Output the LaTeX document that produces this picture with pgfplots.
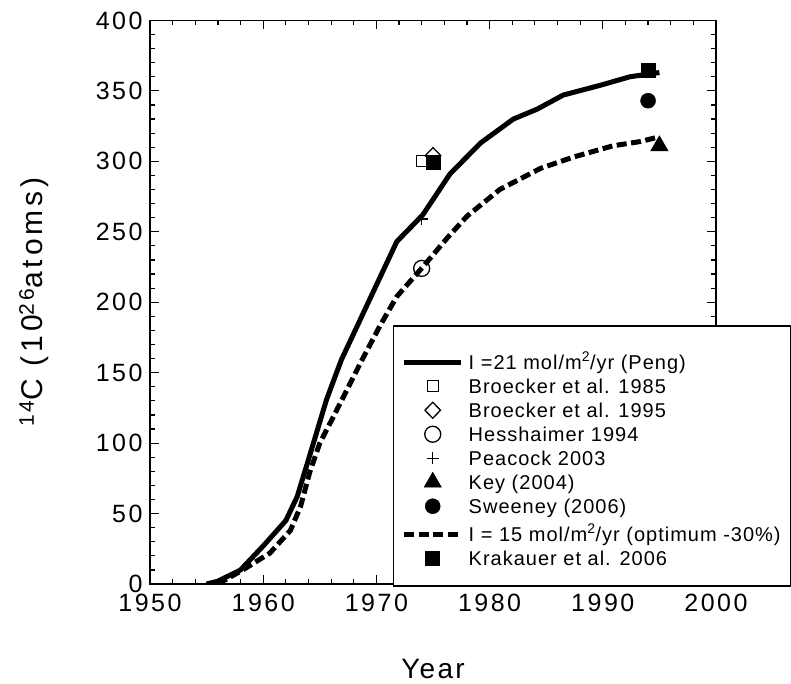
\documentclass[border=0pt]{standalone}
\usepackage{fontspec}
\setmainfont{Liberation Sans}[LetterSpace=8]
\newfontfamily\tickfont{Liberation Sans}[LetterSpace=10]
\newfontfamily\legfont{Liberation Sans}[LetterSpace=5]
\newfontfamily\labfont{Liberation Sans}[LetterSpace=13]
\usepackage{pgfplots}
\pgfplotsset{compat=1.18}
\usetikzlibrary{calc}

\begin{document}
\begin{tikzpicture}
\begin{axis}[
  name=ax,
  scale only axis, width=566pt, height=563.6pt,
  xmin=1950, xmax=2000, ymin=0, ymax=400,
  xtick={1950,1960,...,2000}, ytick={0,50,...,400},
  minor x tick num=4, minor y tick num=4,
  tick align=inside, tick pos=both,
  major tick length=9pt, minor tick length=5pt,
  every tick/.style={black, line width=1.2pt},
  axis line style={line width=1.6pt},
  /pgf/number format/assume math mode=true,
  /pgf/number format/1000 sep={},
  tick label style={font=\tickfont\fontsize{25}{29}\selectfont},
  xticklabel style={yshift=-7pt},
  yticklabel style={xshift=-4pt},
  xlabel={Year},
  ylabel={\textsuperscript{14}C (10\textsuperscript{26}atoms)},
  xlabel style={font=\fontsize{28}{32}\selectfont,
    at={([yshift=-94pt]axis description cs:0.5,0)}, anchor=base},
  ylabel style={font=\labfont\fontsize{30}{34}\selectfont,
    at={([xshift=-107pt]axis description cs:0,0.5)}, anchor=base},
  legend style={at={(axis description cs:0.4293,-0.0053)}, anchor=south west,
    draw=black, line width=1.5pt, fill=white,
    font=\legfont\fontsize{20}{24}\selectfont,
    inner xsep=8pt, inner ysep=14pt, row sep=0pt, column sep=3pt,
    nodes={text height=15pt, text depth=5pt, inner sep=2pt, anchor=base west}},
  legend image code/.code={\draw[mark repeat=2,mark phase=2,#1]
    plot coordinates {(0pt,7pt) (28.5pt,7pt) (57pt,7pt)};},
]
% I = 21 mol/m2/yr (Peng)
\addplot[black, line width=5pt] coordinates {
  (1955,0) (1956,2) (1958,10) (1960,27) (1962,45) (1963,62) (1963.8,83)
  (1964.7,107) (1965.6,131) (1966.9,159) (1968.3,183) (1969.7,207)
  (1971.8,243) (1974.1,262) (1976.5,291) (1979.2,313) (1982.1,330)
  (1984.2,337) (1986.5,347) (1989.8,354) (1992.4,360) (1995,363)};
\addlegendentry[text height=27pt]{I =21 mol/m\textsuperscript{2}/yr (Peng)}

\addplot[black, only marks, mark=square, mark size=5.5pt,
  mark options={line width=1.3pt}] coordinates {(1974,300)};
\addlegendentry{Broecker et al. 1985}

\addplot[black, only marks, mark=diamond, mark size=8pt,
  mark options={line width=1.3pt, xscale=1.3}] coordinates {(1975,304)};
\addlegendentry{Broecker et al. 1995}

\addplot[black, only marks, mark=o, mark size=8pt,
  mark options={line width=1.3pt}] coordinates {(1974,224)};
\addlegendentry{Hesshaimer 1994}

\addplot[black, only marks, mark=+, mark size=6pt,
  mark options={line width=1.2pt}] coordinates {(1974,259)};
\addlegendentry{Peacock 2003}

\addplot[black, only marks, mark=triangle*, mark size=10pt,
  mark options={line width=0.5pt}] coordinates {(1995,311)};
\addlegendentry{Key (2004)}

\addplot[black, only marks, mark=*, mark size=7.5pt,
  mark options={line width=0.5pt}] coordinates {(1994,343)};
\addlegendentry{Sweeney (2006)}

% I = 15 mol/m2/yr
\addplot[black, line width=5pt, dash pattern=on 10pt off 4.5pt] coordinates {
  (1956,0) (1958.2,10) (1960.6,22) (1962.4,38) (1963.3,55) (1964.1,79)
  (1965,100) (1965.9,114) (1967.1,133) (1968.6,157) (1970.3,183)
  (1971.8,204) (1974.1,225) (1976.3,246) (1978,261) (1980.9,280)
  (1984.5,295) (1987.4,303) (1990.9,311) (1993.3,314) (1994.8,317)};
\addlegendentry[text height=19pt]{I = 15 mol/m\textsuperscript{2}/yr (optimum -30\%)}

\addplot[black, only marks, mark=square*, mark size=7pt,
  mark options={line width=0.5pt}] coordinates {(1975,299) (1994,364.5)};
\addlegendentry{Krakauer et al. 2006}
\end{axis}
\pgfresetboundingbox
\path[use as bounding box] ($(ax.south west)+(-150pt,-99pt)$)
  rectangle ($(ax.south west)+(641pt,584pt)$);
\end{tikzpicture}
\end{document}
